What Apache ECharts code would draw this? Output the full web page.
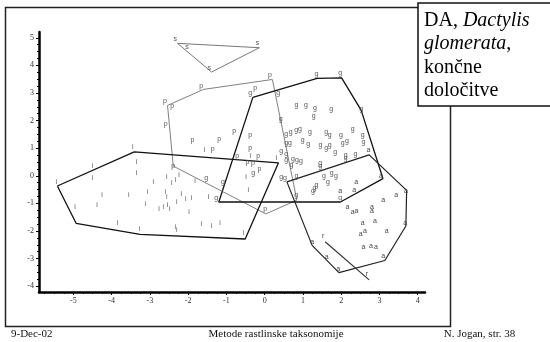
<!DOCTYPE html>
<html>
<head>
<meta charset="utf-8">
<script src="https://cdn.jsdelivr.net/npm/echarts@6/dist/echarts.min.js"></script>
<style>
html,body{margin:0;padding:0;background:#fff;}
#chart{width:550px;height:342px;}
</style>
</head>
<body>
<div id="chart"></div>
<script>
// ---- data (discriminant scores) ----
const xTickValues = [-5, -4, -3, -2, -1, 0, 1, 2, 3, 4];
const yTickValues = [-4, -3, -2, -1, 0, 1, 2, 3, 4, 5];

const sPoints = [[-2.34,4.94],[-2.03,4.65],[-0.19,4.82],[-1.45,3.89]];
const sHull = [[-2.28,4.80],[-0.14,4.64],[-1.39,3.76],[-2.28,4.80]];

const pPoints = [[-1.66,3.26],[0.14,3.64],[-0.25,3.18],[-2.61,2.72],[-2.42,2.52],[-2.59,1.88],
  [-1.89,1.30],[-1.19,1.34],[-0.80,1.62],[-0.38,1.49],[-1.36,0.97],[-0.38,1.02],[-0.72,0.71],
  [-0.17,0.71],[-0.45,0.48],[-0.31,0.45],[-2.39,0.35],[-0.14,0.26],[0.01,-1.20]];
const pHull = [[0.20,3.49],[-1.60,3.13],[-2.54,2.55],[-2.39,0.35],[0.03,-1.38],[0.84,-0.88],[0.20,3.49]];

const gPoints = [[-0.38,2.99],[0.35,3.00],[1.35,3.69],[1.97,3.71],[2.52,2.41],[0.83,2.55],[1.08,2.55],
  [1.31,2.44],[1.28,2.18],[1.74,2.41],[0.42,2.04],[0.56,1.51],[0.68,1.59],[0.82,1.66],[0.92,1.69],
  [1.18,1.60],[1.61,1.57],[1.70,1.48],[1.99,1.49],[2.30,1.69],[2.56,1.46],[2.58,1.22],[0.56,1.20],
  [0.66,1.20],[0.99,1.31],[1.14,1.14],[1.46,1.13],[1.61,1.02],[1.70,1.10],[2.04,1.18],[2.15,1.26],
  [1.84,0.85],[2.12,0.76],[2.12,0.66],[2.37,0.80],[0.43,0.90],[0.56,0.78],[0.56,0.58],[0.74,0.60],
  [0.84,0.57],[0.95,0.54],[0.70,0.40],[1.45,0.45],[1.45,0.34],[1.55,-0.01],[1.75,0.10],[1.86,-0.02],
  [1.65,-0.22],[1.35,-0.33],[1.30,-0.45],[1.26,-0.54],[0.83,0.00],[0.43,-0.06],[0.53,-0.08],
  [-0.30,0.09],[-1.09,-0.24],[-1.53,-0.08],[-1.27,-0.81],[0.82,-0.71],[1.97,-0.79]];
const gHull = [[-0.31,2.84],[1.37,3.53],[2.01,3.55],[2.52,2.38],[3.09,-0.10],[1.98,-0.95],[-1.20,-0.95],[-0.31,2.84]];

const iPoints = [[-3.45,1.05],[-3.35,0.51],[-4.50,0.35],[-1.58,0.93],[-0.38,0.70],[0.31,0.63],
  [-5.45,-0.21],[-4.50,-0.09],[-3.35,0.09],[-2.91,-0.24],[-2.56,-0.05],[-2.33,-0.14],[-2.43,-0.27],
  [-2.24,0.01],[-1.82,-0.20],[-4.25,-0.71],[-3.55,-0.71],[-3.06,-0.60],[-2.60,-0.60],[-2.56,-0.76],
  [-2.18,-0.65],[-2.06,-0.83],[-1.91,-0.81],[-1.47,-0.77],[-1.10,-0.56],[-4.96,-1.13],[-4.38,-1.07],
  [-3.12,-1.03],[-2.76,-1.20],[-2.65,-1.12],[-2.54,-1.06],[-2.48,-1.19],[-2.30,-0.95],[-1.98,-1.30],
  [-3.85,-1.72],[-3.27,-1.93],[-2.34,-1.84],[-2.30,-1.97],[-1.66,-1.75],[-1.39,-1.83],[-1.17,-1.72],
  [-0.56,-2.08],[-0.49,-0.04],[-0.43,-0.51]];
const iHull = [[-5.42,-0.37],[-3.41,0.87],[0.36,0.47],[-0.51,-2.29],[-3.26,-2.12],[-4.93,-1.72],[-5.42,-0.37]];

const aPoints = [[2.71,0.93],[2.39,-0.24],[2.34,-0.53],[1.97,-0.55],[3.44,-0.68],[3.69,-0.55],
  [3.10,-0.89],[2.16,-1.15],[2.30,-1.31],[2.40,-1.27],[2.80,-1.15],[2.80,-1.27],[2.56,-1.73],
  [2.88,-1.64],[2.62,-1.99],[2.51,-2.10],[3.19,-1.99],[3.67,-1.73],[2.58,-2.59],[2.78,-2.54],
  [2.91,-2.59],[3.10,-2.90],[1.62,-2.93],[1.92,-3.37],[1.24,-2.40],[3.04,-0.01]];
const aHull = [[0.58,-0.22],[2.73,0.76],[3.71,-0.53],[3.69,-1.82],[3.14,-3.07],[1.94,-3.51],[1.24,-2.52],[0.58,-0.22]];

const rPoints = [[1.53,-2.20],[2.67,-3.57]];
const rHull = [[1.58,-2.39],[2.73,-3.77]];

// ---- styles ----
const groups = [
  {letter:'s', pts:sPoints, hull:sHull, text:'#555', line:'#777', w:1},
  {letter:'p', pts:pPoints, hull:pHull, text:'#555', line:'#808080', w:1},
  {letter:'i', pts:iPoints, hull:iHull, text:'#555', line:'#111', w:1.3},
  {letter:'g', pts:gPoints, hull:gHull, text:'#555', line:'#111', w:1.3},
  {letter:'a', pts:aPoints, hull:aHull, text:'#444', line:'#222', w:1.2},
  {letter:'r', pts:rPoints, hull:rHull, text:'#444', line:'#333', w:1.2}
];

const minorX = [], minorY = [];
for (let v = -5.75; v <= 4.19; v += 0.25) if (Math.abs(v - Math.round(v)) > 0.01) minorX.push(+v.toFixed(2));
for (let v = -4.0; v <= 5.21; v += 0.25) if (Math.abs(v - Math.round(v)) > 0.01) minorY.push(+v.toFixed(2));

const series = [];
groups.forEach(g => {
  series.push({
    type:'line', data:g.hull, symbol:'none', silent:true, z:2,
    lineStyle:{color:g.line, width:g.w}
  });
});
groups.forEach(g => {
  series.push({
    type:'custom', data:g.pts, silent:true, z:3, clip:false,
    renderItem:function(params, api){
      const p = api.coord([api.value(0), api.value(1)]);
      return {type:'text', x:p[0], y:p[1],
        style:{text:g.letter, fill:g.text, font:'7px "Liberation Sans", Arial, sans-serif',
               align:'center', verticalAlign:'middle'}};
    }
  });
});

const serif = '"Liberation Serif", "Times New Roman", serif';
const axisLbl = {fontSize:8, fontFamily:serif, color:'#333'};

const chart = echarts.init(document.getElementById('chart'), null, {renderer:'canvas'});
chart.setOption({
  animation:false,
  backgroundColor:'#fff',
  grid:{left:39, top:32, width:386, height:260},
  xAxis:[
    {type:'value', min:-5.9, max:4.19, position:'bottom',
     axisLine:{show:true, onZero:false, lineStyle:{color:'#000', width:2.5}},
     axisTick:{show:true, length:3, customValues:xTickValues, lineStyle:{color:'#000', width:1}},
     axisLabel:Object.assign({customValues:xTickValues, margin:5}, axisLbl),
     splitLine:{show:false}},
    {type:'value', min:-5.9, max:4.19, position:'bottom',
     axisLine:{show:false, onZero:false},
     axisTick:{show:true, length:2, customValues:minorX, lineStyle:{color:'#000', width:1}},
     axisLabel:{show:false}, splitLine:{show:false}}
  ],
  yAxis:[
    {type:'value', min:-4.21, max:5.21, position:'left',
     axisLine:{show:true, onZero:false, lineStyle:{color:'#000', width:2.5}},
     axisTick:{show:true, length:3, customValues:yTickValues, lineStyle:{color:'#000', width:1}},
     axisLabel:Object.assign({customValues:yTickValues, margin:5}, axisLbl),
     splitLine:{show:false}},
    {type:'value', min:-4.21, max:5.21, position:'left',
     axisLine:{show:false, onZero:false},
     axisTick:{show:true, length:2, customValues:minorY, lineStyle:{color:'#000', width:1}},
     axisLabel:{show:false}, splitLine:{show:false}}
  ],
  series:series,
  graphic:[
    {type:'polyline', z:10, shape:{points:[[418,7.5],[5.5,7.5],[5.5,326.5],[450.5,326.5],[450.5,106]]},
     style:{stroke:'#222', lineWidth:1.5, fill:null}},
    {type:'rect', z:11, shape:{x:418, y:3, width:140, height:103},
     style:{fill:'#fff', stroke:'#111', lineWidth:1.5}},
    {type:'text', z:12, x:424, y:20.7,
     style:{text:'{n|DA, }{i|Dactylis}', verticalAlign:'middle',
       rich:{n:{fontFamily:serif, fontSize:20, fill:'#000'}, i:{fontFamily:serif, fontSize:20, fontStyle:'italic', fill:'#000'}}}},
    {type:'text', z:12, x:424, y:44.2,
     style:{text:'{i|glomerata}{n|,}', verticalAlign:'middle',
       rich:{n:{fontFamily:serif, fontSize:20, fill:'#000'}, i:{fontFamily:serif, fontSize:20, fontStyle:'italic', fill:'#000'}}}},
    {type:'text', z:12, x:424, y:67.7,
     style:{text:'končne', font:'20px ' + serif, fill:'#000', verticalAlign:'middle'}},
    {type:'text', z:12, x:424, y:91.2,
     style:{text:'določitve', font:'20px ' + serif, fill:'#000', verticalAlign:'middle'}},
    {type:'text', z:12, x:11, y:334.5,
     style:{text:'9-Dec-02', font:'11px ' + serif, fill:'#111', verticalAlign:'middle'}},
    {type:'text', z:12, x:276, y:334.5,
     style:{text:'Metode rastlinske taksonomije', font:'11px ' + serif, fill:'#111', align:'center', verticalAlign:'middle'}},
    {type:'text', z:12, x:479.5, y:334.5,
     style:{text:'N. Jogan, str. 38', font:'11px ' + serif, fill:'#111', align:'center', verticalAlign:'middle'}}
  ]
});
</script>
</body>
</html>
